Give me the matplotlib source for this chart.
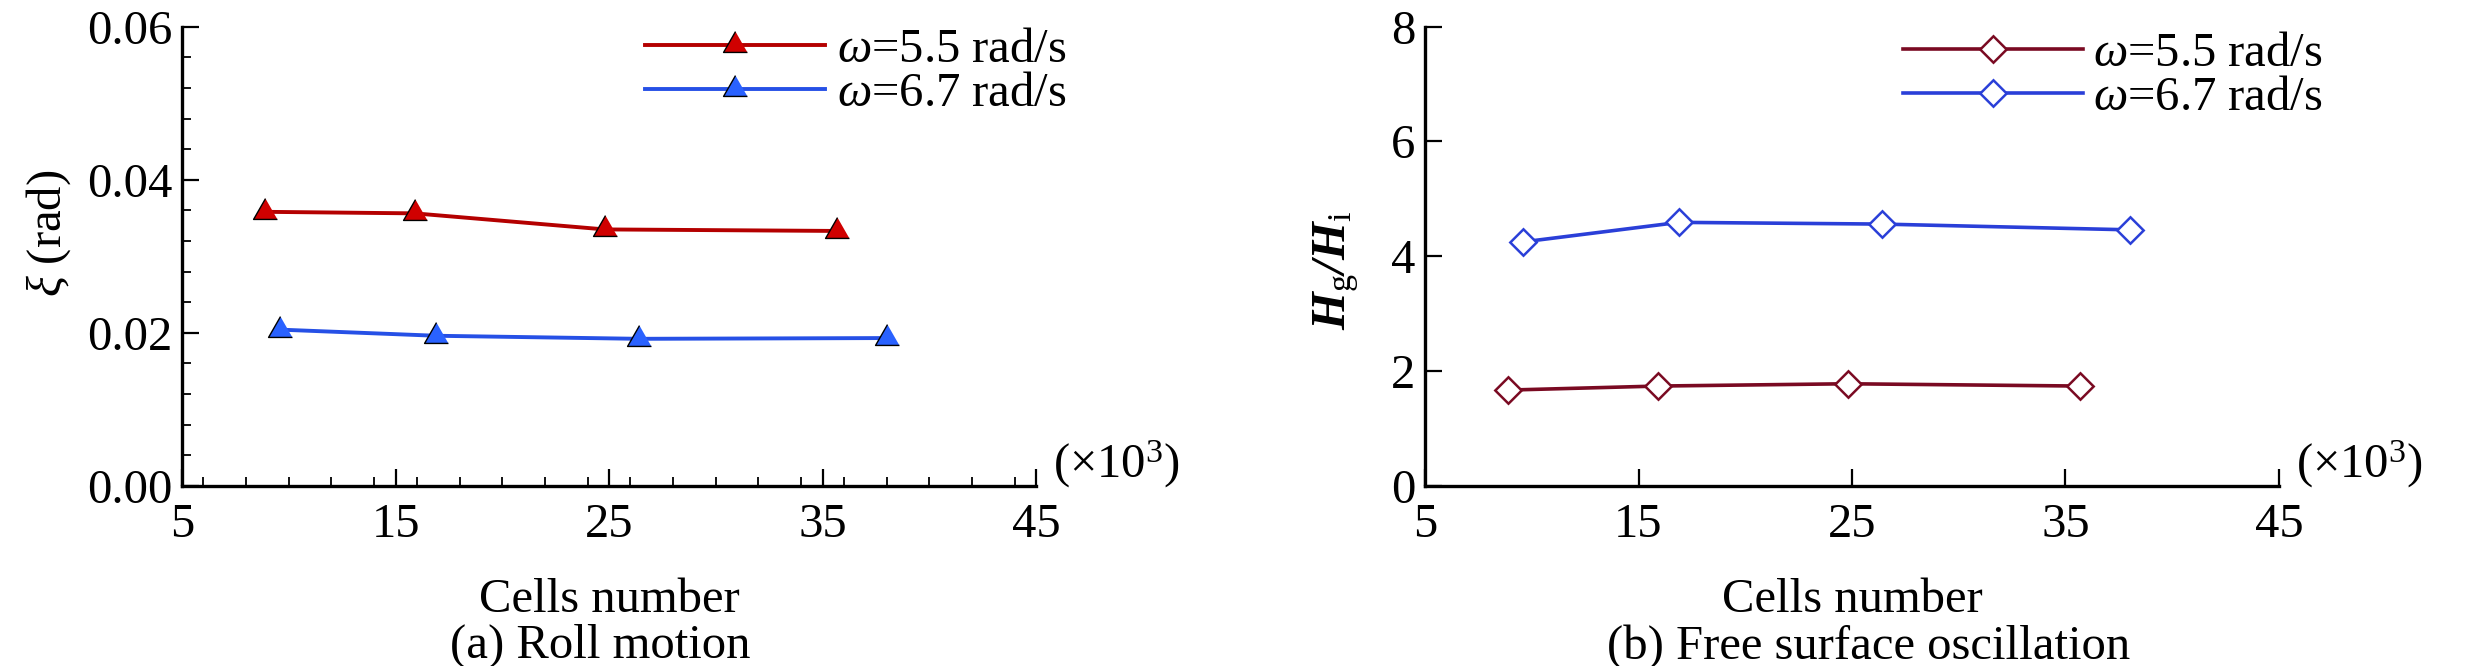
import matplotlib
matplotlib.use("Agg")
import matplotlib.pyplot as plt
from matplotlib.ticker import MultipleLocator, FixedLocator

plt.rcParams['font.family'] = ['Liberation Serif', 'DejaVu Serif']
plt.rcParams['mathtext.fontset'] = 'custom'
plt.rcParams['mathtext.rm'] = 'Liberation Serif'
plt.rcParams['mathtext.it'] = 'Liberation Serif:italic'
plt.rcParams['mathtext.bf'] = 'Liberation Serif:italic:bold'

# ---------------- data ----------------
cells_55 = [8.9, 15.9, 24.8, 35.7]      # x10^3 cells, omega = 5.5 rad/s
cells_67 = [9.6, 16.9, 26.4, 38.0]      # x10^3 cells, omega = 6.7 rad/s
roll_55 = [0.0358, 0.0356, 0.0335, 0.0333]
roll_67 = [0.0204, 0.0196, 0.0192, 0.0193]
hg_55 = [1.67, 1.74, 1.78, 1.74]
hg_67 = [4.25, 4.59, 4.56, 4.46]
series_labels = [r'$\omega$=5.5 rad/s', r'$\omega$=6.7 rad/s']
x_ticks = [5, 15, 25, 35, 45]
roll_ticks = [0.00, 0.02, 0.04, 0.06]
hg_ticks = [0, 2, 4, 6, 8]

W, H = 2482, 666
fig = plt.figure(figsize=(W / 100, H / 100), dpi=100)
FS = 35

tri = [(0, 1.0), (-0.86, -0.5), (0.86, -0.5)]
dia = (4, 0, 0)


def make_ax(x0, x1, y0, y1):
    return fig.add_axes([x0 / W, 1 - y1 / H, (x1 - x0) / W, (y1 - y0) / H])


def style(ax, minor):
    for s in ['top', 'right']:
        ax.spines[s].set_visible(False)
    for s in ['left', 'bottom']:
        ax.spines[s].set_linewidth(2.4)
        ax.spines[s].set_capstyle('projecting')
    ax.set_xlim(5, 45)
    ax.xaxis.set_major_locator(FixedLocator(x_ticks))
    ax.tick_params(which='major', direction='in', length=12, width=1.6,
                   labelsize=FS, pad=7)
    ax.tick_params(axis='x', which='major', pad=12.5)
    if minor:
        ax.tick_params(which='minor', direction='in', length=6.5, width=1.3)
    ax.set_xlabel('Cells number', fontsize=FS)
    ax.xaxis.set_label_coords(0.5, -0.2)
    ax.text(1.02, 0.018, r'($\times$10$^3$)', transform=ax.transAxes,
            fontsize=FS, ha='left', va='baseline')


# ---- (a) Roll motion ----
ax1 = make_ax(182, 1036, 26.7, 485.7)
style(ax1, True)
ax1.plot(cells_55, roll_55, color='#b40000', lw=2.8, marker=tri, ms=20,
         mfc='#d00000', mec='black', mew=1.0, label=series_labels[0])
ax1.plot(cells_67, roll_67, color='#2650e6', lw=2.8, marker=tri, ms=20,
         mfc='#2a62ff', mec='black', mew=1.0, label=series_labels[1])
ax1.set_ylim(0, 0.06)
ax1.yaxis.set_major_locator(FixedLocator(roll_ticks))
ax1.yaxis.set_major_formatter(plt.FuncFormatter(lambda v, p: f'{v:.2f}'))
ax1.xaxis.set_minor_locator(MultipleLocator(2))
ax1.yaxis.set_minor_locator(MultipleLocator(0.004))
ax1.set_ylabel(r'$\xi$ (rad)', fontsize=FS)
ax1.yaxis.set_label_coords(-0.128, 0.55)
ax1.legend(loc='upper left', bbox_to_anchor=(645 / W, 1 - 28 / H),
           bbox_transform=fig.transFigure, frameon=False, fontsize=FS,
           handlelength=3.7, handletextpad=0.25, labelspacing=0.0,
           borderpad=0, borderaxespad=0)
ax1.text(0.49, -0.375, '(a) Roll motion', transform=ax1.transAxes,
         fontsize=FS, ha='center', va='baseline')

# ---- (b) Free surface oscillation ----
ax2 = make_ax(1425, 2279, 26.5, 486)
style(ax2, False)
ax2.plot(cells_55, hg_55, color='#7a0a22', lw=2.6, marker=dia, ms=19,
         mfc='white', mec='#7a0a22', mew=1.8, label=series_labels[0])
ax2.plot(cells_67, hg_67, color='#2a3fd8', lw=2.6, marker=dia, ms=19,
         mfc='white', mec='#2a3fd8', mew=1.8, label=series_labels[1])
ax2.set_ylim(0, 8)
ax2.yaxis.set_major_locator(FixedLocator(hg_ticks))
ax2.set_ylabel(r'$\mathbf{H}_{\mathrm{g}}\mathbf{/H}_{\mathrm{i}}$', fontsize=FS)
ax2.yaxis.set_label_coords(-0.075, 0.47)
ax2.legend(loc='upper left', bbox_to_anchor=(1903 / W, 1 - 32 / H),
           bbox_transform=fig.transFigure, frameon=False, fontsize=FS,
           handlelength=3.7, handletextpad=0.2, labelspacing=0.0,
           borderpad=0, borderaxespad=0)
ax2.text(0.52, -0.375, '(b) Free surface oscillation', transform=ax2.transAxes,
         fontsize=FS, ha='center', va='baseline')

fig.savefig('out.png', dpi=100)
